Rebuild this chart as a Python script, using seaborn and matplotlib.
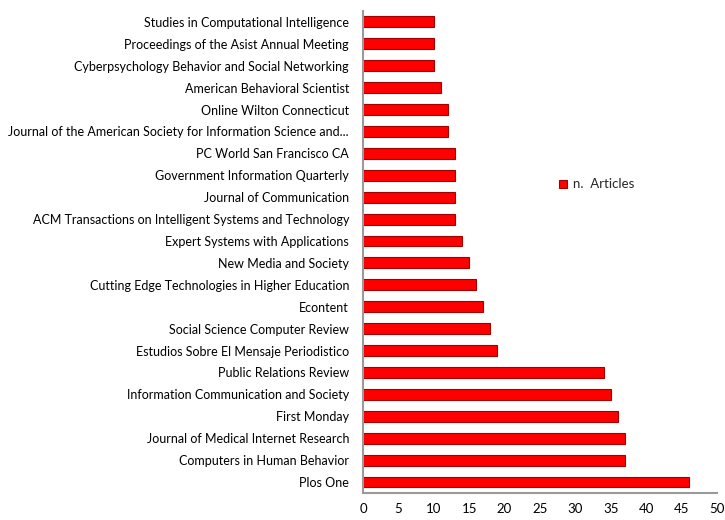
import numpy as np
import pandas as pd
import matplotlib.pyplot as plt
import seaborn as sns

# journals, top to bottom as shown
journals = [
    "Studies in Computational Intelligence",
    "Proceedings of the Asist Annual Meeting",
    "Cyberpsychology Behavior and Social Networking",
    "American Behavioral Scientist",
    "Online Wilton Connecticut",
    "Journal of the American Society for Information Science and...",
    "PC World San Francisco CA",
    "Government Information Quarterly",
    "Journal of Communication",
    "ACM Transactions on Intelligent Systems and Technology",
    "Expert Systems with Applications",
    "New Media and Society",
    "Cutting Edge Technologies in Higher Education",
    "Econtent",
    "Social Science Computer Review",
    "Estudios Sobre El Mensaje Periodistico",
    "Public Relations Review",
    "Information Communication and Society",
    "First Monday",
    "Journal of Medical Internet Research",
    "Computers in Human Behavior",
    "Plos One",
]
articles = [10, 10, 10, 11, 12, 12, 13, 13, 13, 13, 14, 15, 16, 17, 18, 19, 34, 35, 36, 37, 37, 46]
x_ticks = [0, 5, 10, 15, 20, 25, 30, 35, 40, 45, 50]

df = pd.DataFrame({"journal": journals, "n. Articles": articles})

sns.set_style("white")
plt.rcParams['font.family'] = ['Lato', 'DejaVu Sans']

fig = plt.figure(figsize=(7.25, 5.2), dpi=100)
ax = fig.add_axes([0.5007, 0.052, 0.488, 0.927])

sns.barplot(data=df, x="n. Articles", y="journal", color="#ff0000", saturation=1,
            edgecolor="#a00000", linewidth=0.8, width=0.5, ax=ax,
            label="n.  Articles")

ax.set_xlim(0, 50)
ax.set_xticks(x_ticks)
ax.set_xlabel("")
ax.set_ylabel("")
ax.tick_params(axis="x", labelsize=9.5, colors="#8a8a8a", length=4, width=1,
               labelcolor="black")
# Excel style: labels at bar centres, tick marks between categories
ax.tick_params(axis="y", which="major", labelsize=9, length=0, pad=10, labelcolor="black")
ax.set_yticks(np.arange(-0.5, len(journals), 1.0), minor=True)
ax.tick_params(axis="y", which="minor", length=5, width=1, colors="#8a8a8a")

for side in ["top", "right"]:
    ax.spines[side].set_visible(False)
for side in ["left", "bottom"]:
    ax.spines[side].set_color("#9a9a9a")
    ax.spines[side].set_linewidth(1.5)

leg = ax.legend(loc="center left", bbox_to_anchor=(0.52, 0.64), frameon=False,
                fontsize=9.5, handlelength=0.6, handleheight=0.6, handletextpad=0.5)

fig.savefig("out.png", dpi=100)
